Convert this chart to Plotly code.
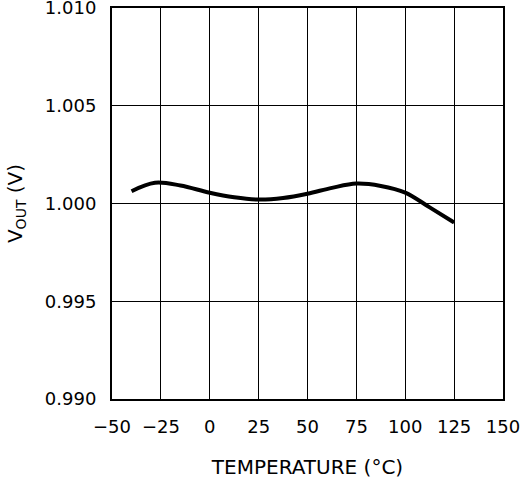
import plotly.graph_objects as go

# Output voltage vs temperature
temperature = [-40, -28, -15, 0, 12.5, 25, 37.5, 50, 62.5, 75, 87.5, 100, 112.5, 125]
vout = [1.00063, 1.00106, 1.00092, 1.00055, 1.00032, 1.00020, 1.00028, 1.00050,
        1.00080, 1.00102, 1.00090, 1.00056, 0.99980, 0.99903]

x_ticks = [-50, -25, 0, 25, 50, 75, 100, 125, 150]
y_ticks = [0.990, 0.995, 1.000, 1.005, 1.010]

FONT = "DejaVu Sans"

fig = go.Figure()

fig.add_trace(
    go.Scatter(
        x=temperature,
        y=vout,
        mode="lines",
        line={"color": "black", "width": 4, "shape": "spline", "smoothing": 1.0},
        showlegend=False,
        hoverinfo="skip",
        cliponaxis=False,
    )
)

axis_common = dict(
    showgrid=True,
    gridcolor="black",
    gridwidth=1.2,
    showline=True,
    linecolor="black",
    linewidth=2,
    mirror=True,
    zeroline=False,
    ticks="",
    automargin=False,
    ticklabelstandoff=10,
    ticklabeloverflow="allow",
    tickfont={"family": FONT, "size": 18, "color": "black"},
)

fig.update_xaxes(
    range=[-50, 150],
    tickvals=x_ticks,
    title={"text": "TEMPERATURE (°C)", "font": {"family": FONT, "size": 20, "color": "black"}, "standoff": 24},
    **axis_common,
)
fig.update_yaxes(
    range=[0.990, 1.010],
    tickvals=y_ticks,
    tickformat=".3f",
    title={"text": "V<sub>OUT</sub> (V)", "font": {"family": FONT, "size": 20, "color": "black"}, "standoff": 17},
    **axis_common,
)

fig.update_layout(
    width=520,
    height=480,
    margin={"l": 112, "r": 17, "t": 8, "b": 81},
    plot_bgcolor="white",
    paper_bgcolor="white",
)

fig.write_html(
    "out.html",
    config={"displayModeBar": False},
    post_script="document.body.style.margin='0';document.body.style.padding='0';",
)
